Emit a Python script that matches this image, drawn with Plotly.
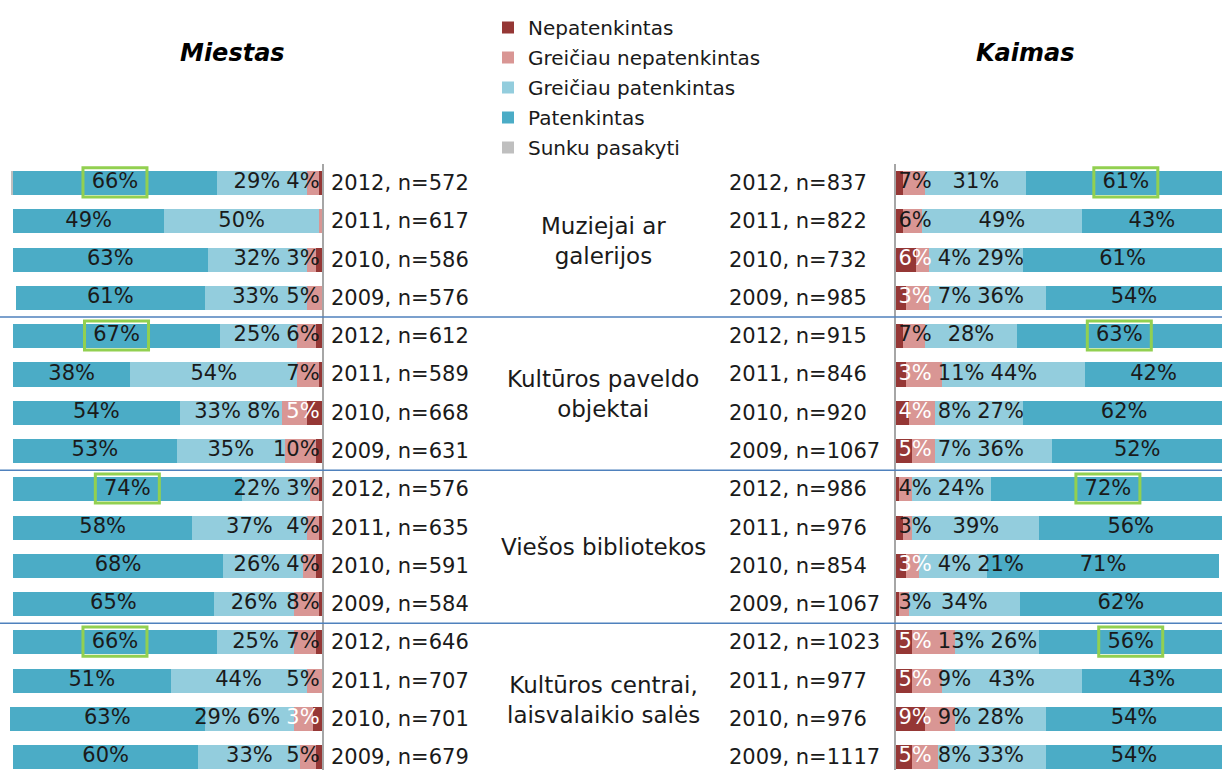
import plotly.graph_objects as go

W, H = 1222, 770
TOP = 164

series = ["Nepatenkintas", "Greičiau nepatenkintas", "Greičiau patenkintas", "Patenkintas", "Sunku pasakyti"]
colors = ["#953735", "#D99694", "#93CDDD", "#4BACC6", "#BFBFBF"]

groups = ["Muziejai ar<br>galerijos", "Kultūros paveldo<br>objektai", "Viešos bibliotekos",
          "Kultūros centrai,<br>laisvalaikio salės"]
years = ["2012", "2011", "2010", "2009"]

miestas_n = [572, 617, 586, 576, 612, 589, 668, 631, 576, 635, 591, 584, 646, 707, 701, 679]
kaimas_n = [837, 822, 732, 985, 915, 846, 920, 1067, 986, 976, 854, 1067, 1023, 977, 976, 1117]

# Miestas (city)
m_nep = [1, 0, 2, 0, 2, 1, 5, 2, 1, 1, 2, 1, 2, 0, 3, 2]
m_gnep = [4, 1, 3, 5, 6, 7, 8, 10, 3, 4, 4, 8, 7, 5, 6, 5]
m_gpat = [29, 50, 32, 33, 25, 54, 33, 35, 22, 37, 26, 26, 25, 44, 29, 33]
m_pat = [66, 49, 63, 61, 67, 38, 54, 53, 74, 58, 68, 65, 66, 51, 63, 60]
m_sunku = [0.6, 0, 0, 0, 0, 0, 0, 0, 0, 0, 0, 0, 0, 0, 0, 0]

# Kaimas (countryside)
k_nep = [2, 2, 6, 3, 2, 3, 4, 5, 1, 2, 3, 1, 5, 5, 9, 5]
k_gnep = [7, 6, 4, 7, 7, 11, 8, 7, 4, 3, 4, 3, 13, 9, 9, 8]
k_gpat = [31, 49, 29, 36, 28, 44, 27, 36, 24, 39, 21, 34, 26, 43, 28, 33]
k_pat = [61, 43, 61, 54, 63, 42, 62, 52, 72, 56, 71, 62, 56, 43, 54, 54]
k_sunku = [0] * 16

FONT = "DejaVu Sans"
TXT = "#1a1a1a"
LBL_SIZE = 21

rows = list(range(16))


def px(x):
    return x / W


def py(y):
    return (H - y) / (H - TOP)


fig = go.Figure()

# (x axis, y axis, values, show legend, pixels per percent)
panels = [
    ("x", "y", [m_nep, m_gnep, m_gpat, m_pat, m_sunku], True, 3.09),
    ("x2", "y2", [k_nep, k_gnep, k_gpat, k_pat, k_sunku], False, 3.26),
]

for xa, ya, vals, show, _ in panels:
    for i, (name, col, v) in enumerate(zip(series, colors, vals)):
        fig.add_trace(go.Bar(
            x=v, y=rows, orientation="h", name=name, marker=dict(color=col, line=dict(width=0)),
            width=0.63, xaxis=xa, yaxis=ya, showlegend=show, legendgroup=name, hoverinfo="skip",
        ))


def label_halfwidth(txt, ppu):
    w = 0
    for ch in txt:
        w += 1.0 if ch == "%" else 0.636
    return w * LBL_SIZE / ppu / 2


# labels as text scatter, centered on segments, nudged apart like the original
for xa, ya, vals, _, ppu in panels:
    gap = 5 / ppu
    xs, ys, ts, cs = [], [], [], []
    for r in rows:
        cum = 0
        prev_right = 0.6
        for i, v in enumerate(vals):
            val = v[r]
            if val >= 3:
                t = f"{val:g}%"
                hw = label_halfwidth(t, ppu)
                c = cum + val / 2
                left = max(c - hw, prev_right)
                c = left + hw
                prev_right = left + 2 * hw + gap
                xs.append(c)
                ys.append(r)
                ts.append(t)
                cs.append("white" if i == 0 else TXT)
            cum += val
    fig.add_trace(go.Scatter(
        x=xs, y=ys, text=ts, mode="text", textposition="middle center",
        textfont=dict(family=FONT, size=LBL_SIZE, color=cs), xaxis=xa, yaxis=ya,
        showlegend=False, hoverinfo="skip", cliponaxis=False,
    ))

shapes = []
# green boxes around 2012 "Patenkintas" labels
for xa, ya, vals, _, ppu in panels:
    half_w = 32 / ppu
    for g in range(4):
        r = g * 4
        cum = sum(vals[i][r] for i in range(3))
        c = cum + vals[3][r] / 2
        shapes.append(dict(type="rect", xref=xa, yref=ya, x0=c - half_w, x1=c + half_w,
                           y0=r - 0.40, y1=r + 0.36, line=dict(color="#92D050", width=3)))

# group separators
for s in [3.5, 7.5, 11.5]:
    shapes.append(dict(type="line", xref="paper", yref="y", x0=0, x1=1, y0=s, y1=s,
                       line=dict(color="#4F81BD", width=1.5)))

annotations = []
for r in rows:
    annotations.append(dict(xref="paper", yref="y", x=px(329), y=r, xanchor="left", yanchor="middle",
                            text=f"{years[r % 4]}, n={miestas_n[r]}", showarrow=False,
                            font=dict(family=FONT, size=21, color=TXT)))
    annotations.append(dict(xref="paper", yref="y", x=px(727), y=r, xanchor="left", yanchor="middle",
                            text=f"{years[r % 4]}, n={kaimas_n[r]}", showarrow=False,
                            font=dict(family=FONT, size=21, color=TXT)))
for g, name in enumerate(groups):
    annotations.append(dict(xref="paper", yref="y", x=px(603), y=g * 4 + 1.5, xanchor="center",
                            yanchor="middle", text=name, showarrow=False,
                            font=dict(family=FONT, size=23, color=TXT)))

annotations.append(dict(xref="paper", yref="paper", x=px(232), y=py(53), xanchor="center", yanchor="middle",
                        text="<b><i>Miestas</i></b>", showarrow=False,
                        font=dict(family=FONT, size=24, color="black")))
annotations.append(dict(xref="paper", yref="paper", x=px(1025), y=py(53), xanchor="center", yanchor="middle",
                        text="<b><i>Kaimas</i></b>", showarrow=False,
                        font=dict(family=FONT, size=24, color="black")))

yrange = [-0.5 + (H - TOP) / 38.27, -0.5]
axis_common = dict(showgrid=False, zeroline=False, showticklabels=False, ticks="", fixedrange=True)

fig.update_layout(
    width=W, height=H,
    margin=dict(l=0, r=0, t=TOP, b=0, pad=0),
    barmode="stack", bargap=0,
    plot_bgcolor="white", paper_bgcolor="white",
    xaxis=dict(domain=[0, px(322)], range=[322 / 309 * 100, 0], **axis_common),
    yaxis=dict(anchor="x", side="right", range=yrange, showline=True, linecolor="#A6A6A6",
               linewidth=2, **axis_common),
    xaxis2=dict(domain=[px(896), 1], range=[0, 100], anchor="y2", **axis_common),
    yaxis2=dict(anchor="x2", side="left", range=yrange, showline=True, linecolor="#A6A6A6",
                linewidth=2, **axis_common),
    legend=dict(x=px(488), y=py(8), xanchor="left", yanchor="top", traceorder="grouped",
                font=dict(family=FONT, size=20, color=TXT), bgcolor="rgba(0,0,0,0)",
                tracegroupgap=1),
    shapes=shapes,
    annotations=annotations,
)

fig.write_html("out.html", config={"displayModeBar": False},
               post_script="document.body.style.margin='0';document.body.style.padding='0';")
